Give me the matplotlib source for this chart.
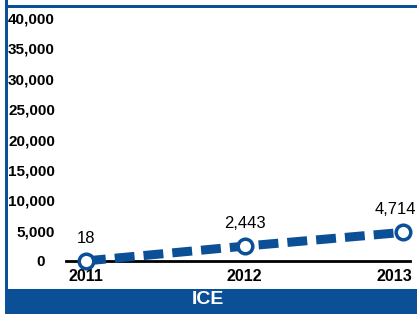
import matplotlib.pyplot as plt
from matplotlib.patches import Rectangle
from matplotlib.transforms import ScaledTranslation

plt.rcParams['font.family'] = ['Liberation Sans', 'DejaVu Sans']

years = [2011, 2012, 2013]
values = [18, 2443, 4714]
labels = ["18", "2,443", "4,714"]
yticks = [0, 5000, 10000, 15000, 20000, 25000, 30000, 35000, 40000]
panel_title = "ICE"

blue = "#0b4f97"
W, H = 417, 314

fig = plt.figure(figsize=(W / 100, H / 100), dpi=100)

# frame: left + top line, bottom band
fig.add_artist(Rectangle((5 / W, 0), 2.5 / W, 1, transform=fig.transFigure, color=blue, lw=0))
fig.add_artist(Rectangle((5 / W, 1 - 7.5 / H), 1, 2.5 / H, transform=fig.transFigure, color=blue, lw=0))
fig.add_artist(Rectangle((5 / W, 0), 1, 25 / H, transform=fig.transFigure, color=blue, lw=0))
fig.text(208 / W, 1 - 300 / H, panel_title, color="white", fontsize=14, fontweight="bold",
         ha="center", va="center")

# axes: x 66..410 px, y 261 (0) .. 10 px
left, right, bottom, top = 66, 410, 261, 10
ax = fig.add_axes([left / W, 1 - bottom / H, (right - left) / W, (bottom - top) / H])
px_per_year = (403 - 86) / 2
ax.set_xlim(2011 - (86 - left) / px_per_year, 2013 + (right - 403) / px_per_year)
px_per_unit = (bottom - 18) / 40000
ax.set_ylim(0, (bottom - top) / px_per_unit)

for s in ax.spines.values():
    s.set_visible(False)
ax.axhline(0, color="black", lw=2, clip_on=False, zorder=2)

ax.plot(years, values, color=blue, lw=6.5, linestyle=(0, (2.2, 1.0)), clip_on=False, zorder=3)
ax.plot(years, values, linestyle="none", marker="o", ms=10.5, mfc="white", mec=blue, mew=2.5,
        clip_on=False, zorder=4)

for i, (x, y, t) in enumerate(zip(years, values, labels)):
    last = i == len(years) - 1
    ax.annotate(t, (x, y), xytext=(9.5 if last else 0, 11), textcoords="offset points",
                ha="right" if last else "center", va="bottom", fontsize=12)

ax.set_yticks(yticks)
ax.set_yticklabels([f"{v:,}" for v in yticks], fontweight="bold", fontsize=11)
ax.set_xticks(years)
ax.set_xticklabels([str(y) for y in years], fontweight="bold", fontsize=11.5)
ax.tick_params(length=0, axis="y", pad=8)
ax.tick_params(length=0, axis="x", pad=6)

# "0" label sits a bit further left, last year label is pulled inside the frame
ylab0 = ax.get_yticklabels()[0]
ylab0.set_transform(ylab0.get_transform() + ScaledTranslation(-10 / 100, 0, fig.dpi_scale_trans))
xlast = ax.get_xticklabels()[-1]
xlast.set_transform(xlast.get_transform() + ScaledTranslation(-9 / 100, 0, fig.dpi_scale_trans))

fig.savefig("out.png", dpi=100)
